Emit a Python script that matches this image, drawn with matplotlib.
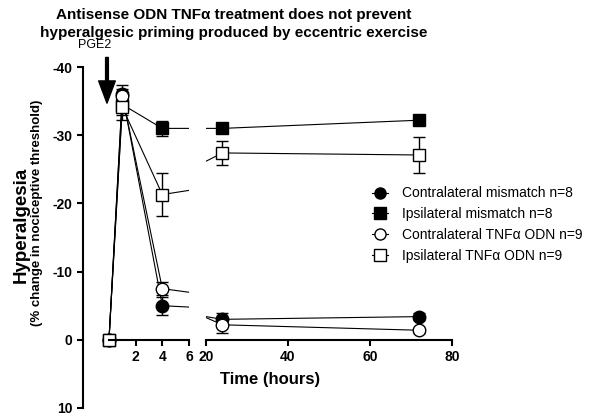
import matplotlib
matplotlib.use("Agg")
import matplotlib.pyplot as plt
from matplotlib.ticker import FixedLocator
from matplotlib.lines import Line2D

plt.rcParams['font.family'] = ['Liberation Sans', 'DejaVu Sans']
plt.rcParams['axes.unicode_minus'] = False

# time points (hours)
hours = [0, 1, 4, 24, 72]

contra_mismatch = [0, -36.0, -5.0, -3.0, -3.4]
contra_mismatch_err = [0, 1.3, 1.3, 1.0, 0.5]
ipsi_mismatch = [0, -34.5, -31.0, -31.0, -32.2]
ipsi_mismatch_err = [0, 1.5, 1.1, 0.5, 0.5]
contra_odn = [0, -35.8, -7.5, -2.2, -1.4]
contra_odn_err = [0, 1.0, 1.0, 1.2, 0.4]
ipsi_odn = [0, -34.1, -21.3, -27.4, -27.1]
ipsi_odn_err = [0, 1.8, 3.2, 1.7, 2.7]

series = [
    ("Contralateral mismatch n=8", contra_mismatch, contra_mismatch_err, "o", "black"),
    ("Ipsilateral mismatch n=8", ipsi_mismatch, ipsi_mismatch_err, "s", "black"),
    ("Contralateral TNF\u03b1 ODN n=9", contra_odn, contra_odn_err, "o", "white"),
    ("Ipsilateral TNF\u03b1 ODN n=9", ipsi_odn, ipsi_odn_err, "s", "white"),
]

fig = plt.figure(figsize=(6, 4.17), dpi=100)
ax1 = fig.add_axes([0.1383, 0.0216, 0.1767, 0.8177])
ax2 = fig.add_axes([0.3433, 0.0216, 0.41, 0.8177])

for ax in (ax1, ax2):
    for label, vals, err, mk, fc in series:
        ax.errorbar(hours, vals, yerr=err, marker=mk, ms=9, mfc=fc, mec="black",
                    mew=1, color="black", lw=0.8, elinewidth=1, capsize=4,
                    capthick=1)
    ax.set_ylim(10, -40)
    ax.spines['top'].set_visible(False)
    ax.spines['right'].set_visible(False)
    ax.spines['bottom'].set_position(('data', 0))
    ax.spines['bottom'].set_linewidth(1.5)
    ax.patch.set_visible(False)
    ax.tick_params(axis='x', direction='out', length=4, width=1.5, labelsize=10)
    ax.tick_params(axis='x', which='minor', direction='in', length=4, width=1.5)

ax1.set_xlim(-1.95, 6)
ax1.spines['bottom'].set_bounds(0, 6)
ax1.set_xticks([2, 4, 6])
ax1.xaxis.set_minor_locator(FixedLocator([6]))
ax1.set_yticks([-40, -30, -20, -10, 0, 10])
ax1.spines['left'].set_linewidth(1.5)
ax1.tick_params(axis='y', direction='out', length=4, width=1.5, labelsize=10)
for t in ax1.get_xticklabels() + ax1.get_yticklabels():
    t.set_fontweight('bold')

ax2.set_xlim(20, 80)
ax2.spines['bottom'].set_bounds(20, 80)
ax2.set_xticks([20, 40, 60, 80])
ax2.xaxis.set_minor_locator(FixedLocator([20]))
ax2.spines['left'].set_visible(False)
ax2.set_yticks([])
for t in ax2.get_xticklabels():
    t.set_fontweight('bold')

# PGE2 arrow
ax1.annotate("", xy=(-0.15, -34.7), xytext=(-0.15, -41.4),
             arrowprops=dict(facecolor='black', edgecolor='black', width=2,
                             headwidth=12, headlength=16, shrink=0),
             annotation_clip=False)
ax1.text(-1.05, -43.3, "PGE2", ha='center', va='center', fontsize=9, clip_on=False)

fig.text(0.39, 0.943, "Antisense ODN TNF\u03b1 treatment does not prevent\n"
         "hyperalgesic priming produced by eccentric exercise",
         ha='center', va='center', fontsize=11, fontweight='bold', linespacing=1.4)
fig.text(0.45, 0.091, "Time (hours)", ha='center', va='center', fontsize=12,
         fontweight='bold')
fig.text(0.035, 0.46, "Hyperalgesia", rotation=90, ha='center', va='center',
         fontsize=13.5, fontweight='bold')
fig.text(0.062, 0.49, "(% change in nociceptive threshold)", rotation=90,
         ha='center', va='center', fontsize=9.5, fontweight='bold')

handles = [Line2D([], [], marker=mk, ms=8, mfc=fc, mec="black", mew=1,
                  color="black", lw=0.8, label=label)
           for label, vals, err, mk, fc in series]
fig.legend(handles=handles, loc='upper left', bbox_to_anchor=(0.62, 0.553),
           frameon=False, fontsize=10, borderpad=0, borderaxespad=0,
           handlelength=1.15, handletextpad=1.0, labelspacing=0.5)

fig.savefig("out.png", dpi=100)
